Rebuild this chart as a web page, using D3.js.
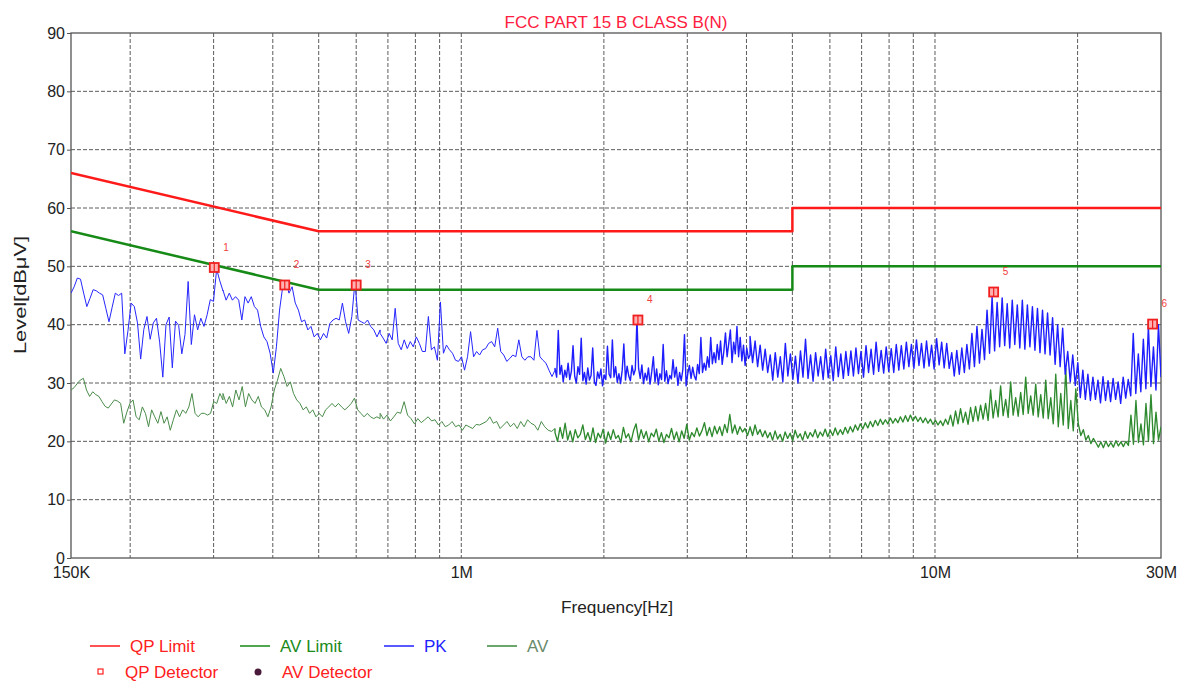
<!DOCTYPE html>
<html>
<head>
<meta charset="utf-8">
<script src="https://cdn.jsdelivr.net/npm/d3@7"></script>
<style>
body { margin: 0; background: #fff; }
</style>
</head>
<body>
<script>
// sweep segments (MHz), each level list is read at equal log steps between two edges
var sweepEdges = [0.15, 0.314, 0.674, 1.577, 4.07, 30];

var pkLevels1 = [45.4,46.5,48,47.8,45.4,43.1,44.5,46,45.8,45.4,45.1,42.8,40.5,43,45.4,45,45.4,35,39,43.7,43.1,40.3,34.1,39.2,41.4,37.5,40.3,41.1,37,31,40,41.3,32.6,40.6,39.9,35,38.3,47.4,36.6,41.7,39.1,41.1,39.7,41.7,44.3,44,49.5,47.5,45.8];
var pkLevels2 = [45.9,44.2,45.4,44.2,44.8,44.2,40.8,44.8,43.7,44.8,43.1,42.5,39.7,37.9,37.1,35.1,31.7,36.2,42.5,46.5,47.4,45.4,46.5,43.7,42.5,40.5,40.8,39.1,39.7,37.9,38.5,37.4,38.5,37.7,40.2,40.8,41.1,40.8,43.7,40.5,38.5,41.4,47.4,40.8,40.5,40.2,40.8,39.7,39.1,37.9,39.1];
var pkLevels3 = [38.5,37.7,36.8,38.5,37.4,42.8,36.8,35.7,37.4,35.9,37.1,36.2,37.9,36.8,35.4,35.4,41.4,35.7,36.2,33.9,43.9,35.1,36.5,35.7,35.1,33.9,33.7,34.5,32.2,34.5,38.8,34.5,35.4,34.8,35.7,35.9,36.8,37.1,36.2,39.4,35.4,34.8,33.7,34.2,34.8,34.5,37.4,34.5,33.9,34.5,34.5,33.9,39,34.5,33.9,33.4,32.2,31.1,32.2];
var pkLevels4 = [32.5,31,39,31.5,33,30.2,32.2,31,33.4,30.6,
  32,36.4,31.2,30,32.8,31.5,37.7,30.4,31.8,29.8,
  32.6,30.5,31.3,36,30.2,29.6,31.9,30.8,32.4,29.5,
  31.4,30.6,36.3,31.5,30.9,37.4,31,32.8,30.1,31.6,
  29.9,32.2,36.7,30.5,32.9,31.2,30.4,33,31.4,32.3,
  41,32.5,30.8,33.1,29.9,31.7,30.5,32.6,29.8,31.9,
  34.5,30.2,32.4,29.7,31.6,30.6,36.6,30.3,32.1,29.9,
  31.3,30.7,34,31,32.7,29.6,31.8,30.4,32.3,38.3,
  29.5,31.6,33,30.8,32.7,31.2,30.5,33.2,31.6,37.8,
  31.8,33.4,32.2,34.5,32.7,37.8,33.3,35.2,33.5,36.6,
  34,37.2,33.2,35.4,38.6,34.5,36.8,39.1,33.5,37,
  35,39.7,34.5,37.8,33.8,36.5,33,36,34.2,34.8];
var pkLevels5 = [38,33.5,37.2,32.8,36.5,32.2,35.8,31.8,
  34.8,30.5,35.2,31,34.5,30.2,36.8,31.2,35,30.6,34.6,30,35.5,31,37.5,30.8,34.8,30.3,35.2,31.2,34.5,30.6,35.8,30.9,34.7,30.4,36.2,31.1,35,30.8,35.4,31.3,
  35.5,31.2,36,31.6,35.4,31,36.4,31.8,35.8,31.5,37,32,35.6,31.7,36.2,32,35.9,31.8,36.6,32.2,
  36.4,32.4,37,32.8,36.6,32.5,37.4,33,36.8,32.6,37.2,32.9,36.5,32.4,37.6,33.1,37,32.6,36.8,32.5,
  35.2,31.2,35.6,31.5,36,31.8,36.6,32.4,
  38.5,32.8,39.7,33.4,39.2,34,
  42.5,35.1,44.8,35.5,
  43.8,36.2,44.6,36.4,43.6,36,44.2,36.6,43.4,
  36,44.2,35.8,43.4,36.2,43.1,35.6,42.8,
  35.2,42.5,35,42,34.8,
  41.2,33.2,40,32.8,39.4,
  31.5,35.4,30.2,34.8,29.6,33.5,
  27.5,32.2,27.2,31.5,27,
  31,27.2,30.5,26.6,31.1,27,30.4,26.8,30.8,27.2,30.2,26.5,31,27.4,30.6,27.8,
  38.5,28.2,35,28.5,37.5,
  29,39.7,29.4,36.2,28.8,40,31];

var avLevels1 = [28.8,29.2,29.9,30.5,30.8,28.8,27.7,28.5,28,27.7,26.8,26,25.7,26.4,27.1,26.9,26.5,23.1,25,26.5,27.1,24.2,23.7,25.9,24.8,22.5,25.4,24.2,23.1,25.1,23.1,24.2,21.9,23.7,25.4,24.2,25.4,24.8,25.9,28.2,24.8,24.2,24.8,24.8,24.5,24.8,26.8,26.5,28.2,27.1];
var avLevels2 = [28.2,26.5,27.7,25.9,28.8,27.1,29.4,25.9,28.2,27.1,26.5,27.7,25.9,25.4,24.2,25.9,28.8,30.5,32.5,31.1,29.4,30.2,28.2,27.1,26.5,25.4,25.9,24.8,25.4,24.2,24.8,24.2,25.4,25.9,26.5,25.9,26.5,25.9,25.4,25.9,26.5,27.4,25.4,24.8,24.2,24.8,24.2,23.9,24.2,23.9];
var avLevels3 = [24.8,23.8,24.5,23.5,24.2,25,24.8,26.8,24.5,23.9,23,23.9,23.2,23.7,24.2,23.5,23.7,22.8,23.4,22.5,22.8,23.4,22.5,22.8,21.9,22.8,22.5,22.2,22.9,22.8,23.1,23.4,24.2,23.1,23.4,22.2,22.8,23.4,22.5,23.1,22.2,23.4,22.5,23.7,23.1,22.8,21.9,23.4,22.5,21.9,21.7,22.2];
var avLevels4 = [21.5,20,22.4,20.5,23.1,20.2,21.8,19.9,22,20.6,21.2,22.8,20.3,21.5,20,22.3,19.8,21.4,20.6,22.1,19.7,21.6,20.3,22,20.5,21,19.8,22.4,20.6,21.3,19.9,21.8,23,20.2,22,20.5,21.7,19.9,21.4,20.8,22.1,20,21.5,19.8,21.2,20.6,22.2,20.3,21.6,19.9,21.8,20.5,22.9,20.2,21.5,20.8,22.3,20.9,21.8,23.2,21,22.4,20.8,22.6,21.3,22.5,21,22.9,21.5,24.6,21.4,22.8,21.2,22.5,21.6,22.2,21,22.4];
var avLevels5 = [22.5,21,22.8,21.2,22,20.8,21.8,20.6,
  21.5,20.2,21.8,20.4,21.2,20,21.6,20.5,21.4,20.1,21.9,20.6,21.3,20.2,21.7,20.5,21.5,20.8,22,20.6,21.6,20.9,22.1,20.8,21.9,21,22.3,21.1,22,21.2,22.4,21.4,
  22.5,21.6,22.8,21.9,23,22.1,23.2,22.3,23.4,22.5,23.6,22.7,23.8,22.9,23.7,23,24,23.1,23.9,23.2,
  24.2,23.3,24.4,23.4,24.5,23.5,24.3,23.4,24.1,23.2,24,23.1,23.8,22.9,23.6,22.8,23.5,22.7,23.8,22.9,
  24.5,22.6,25.2,23,25.6,23.2,25,22.9,25.8,23.4,26,23.5,26.2,23.8,
  26.5,23.6,28.8,24,27,24.2,29.5,24.4,27.2,24.1,30.2,24.5,27.5,24.3,28.4,24.6,31,24.8,27.8,24.5,29.8,24.2,28,24,30.5,23.9,
  27.5,23,31.5,22.5,28.2,22.8,32.5,22.2,27,21.8,29,
  23,21,22,20.2,21,19.6,20.5,
  19.8,19,19.9,18.9,20,19.1,19.8,19,20.1,19.2,19.9,19.1,20,19.3,
  24.5,19.5,27,19.8,23,19.4,26.5,20,28,19.6,25,20.2,22.5];

var qpLimitFreq = [0.15, 0.5, 5, 5, 30];
var qpLimitLevel = [66, 56, 56, 60, 60];
var avLimitFreq = [0.15, 0.5, 5, 5, 30];
var avLimitLevel = [56, 46, 46, 50, 50];

var markFreq = [0.301, 0.424, 0.600, 2.36, 13.3, 28.8];
var markLevel = [49.8, 46.8, 46.8, 40.8, 45.6, 40.1];
var markNo = ["1", "2", "3", "4", "5", "6"];

var gridFreq = [0.2,0.3,0.4,0.5,0.6,0.7,0.8,0.9,1,2,3,4,5,6,7,8,9,10,20];
var tickFreq = [0.15, 1, 10, 30];
var tickLabel = ["150K", "1M", "10M", "30M"];
var levelTicks = [0,10,20,30,40,50,60,70,80,90];

var width = 1187, height = 682;
var plotL = 71, plotR = 1161, plotT = 33, plotB = 558;
var fontFam = "'Liberation Sans', Arial, sans-serif";

var svg = d3.select("body").append("svg")
    .attr("width", width)
    .attr("height", height)
    .style("font-family", fontFam);

var x = d3.scaleLog().domain([0.15, 30]).range([plotL, plotR]);
var y = d3.scaleLinear().domain([0, 90]).range([plotB, plotT]);

function sweep(f0, f1, levels) {
    return levels.map(function(v, i) {
        return { f: f0 * Math.pow(f1 / f0, i / (levels.length - 1)), v: v };
    });
}

var pkSegs = [pkLevels1, pkLevels2, pkLevels3, pkLevels4, pkLevels5];
var avSegs = [avLevels1, avLevels2, avLevels3, avLevels4, avLevels5];
var pkLow = [], avLow = [], pkHigh = [], avHigh = [];
for (var s = 0; s < 5; s++) {
    var pk = sweep(sweepEdges[s], sweepEdges[s + 1], pkSegs[s]);
    var av = sweep(sweepEdges[s], sweepEdges[s + 1], avSegs[s]);
    if (s < 3) { pkLow = pkLow.concat(pk); avLow = avLow.concat(av); }
    else { pkHigh = pkHigh.concat(pk); avHigh = avHigh.concat(av); }
}
// join the two halves so the line is continuous
pkHigh.unshift(pkLow[pkLow.length - 1]);
avHigh.unshift(avLow[avLow.length - 1]);

svg.append("defs").append("clipPath").attr("id", "plotClip")
    .append("rect")
    .attr("x", plotL).attr("y", plotT)
    .attr("width", plotR - plotL).attr("height", plotB - plotT);

// grid
svg.append("g").selectAll("line")
    .data(gridFreq)
    .enter().append("line")
    .attr("x1", d => x(d)).attr("x2", d => x(d))
    .attr("y1", plotT).attr("y2", plotB)
    .attr("stroke", "#4a4a4a")
    .attr("stroke-width", 0.9)
    .attr("stroke-dasharray", "4,2");

svg.append("g").selectAll("line")
    .data(levelTicks.slice(1, 9))
    .enter().append("line")
    .attr("x1", plotL).attr("x2", plotR)
    .attr("y1", d => y(d)).attr("y2", d => y(d))
    .attr("stroke", "#4a4a4a")
    .attr("stroke-width", 0.9)
    .attr("stroke-dasharray", "4,2");

svg.append("rect")
    .attr("x", plotL).attr("y", plotT)
    .attr("width", plotR - plotL).attr("height", plotB - plotT)
    .attr("fill", "none")
    .attr("stroke", "#555")
    .attr("stroke-width", 1.3);

// axes
var yAxis = svg.append("g")
    .attr("transform", "translate(" + plotL + ",0)")
    .call(d3.axisLeft(y).tickValues(levelTicks).tickSize(4).tickPadding(2));
yAxis.select(".domain").remove();
yAxis.selectAll("line").attr("stroke", "#555");
yAxis.selectAll("text").attr("font-size", "16px").attr("fill", "#222")
    .attr("font-family", fontFam);

var xAxis = svg.append("g")
    .attr("transform", "translate(0," + plotB + ")")
    .call(d3.axisBottom(x).tickValues(tickFreq).tickFormat((d, i) => tickLabel[i]).tickSize(0).tickPadding(9));
xAxis.select(".domain").remove();
xAxis.selectAll("text").attr("font-size", "16px").attr("fill", "#222")
    .attr("font-family", fontFam);

// traces
var line = d3.line().x(d => x(d.f)).y(d => y(d.v));
var plot = svg.append("g").attr("clip-path", "url(#plotClip)")
    .attr("stroke-linejoin", "round");

plot.append("path").datum(avLow).attr("d", line)
    .attr("fill", "none").attr("stroke", "#4a8c4a").attr("stroke-width", 1);
plot.append("path").datum(avHigh).attr("d", line)
    .attr("fill", "none").attr("stroke", "#2e8a2e").attr("stroke-width", 1.35);

plot.append("path").datum(pkLow).attr("d", line)
    .attr("fill", "none").attr("stroke", "#2626ff").attr("stroke-width", 1);
plot.append("path").datum(pkHigh).attr("d", line)
    .attr("fill", "none").attr("stroke", "#1e1eff").attr("stroke-width", 1.4);

var qpLimit = qpLimitFreq.map((f, i) => ({ f: f, v: qpLimitLevel[i] }));
var avLimit = avLimitFreq.map((f, i) => ({ f: f, v: avLimitLevel[i] }));

plot.append("path")
    .datum(avLimit)
    .attr("d", line)
    .attr("fill", "none")
    .attr("stroke", "#168a16")
    .attr("stroke-width", 2.5);

plot.append("path")
    .datum(qpLimit)
    .attr("d", line)
    .attr("fill", "none")
    .attr("stroke", "#ff1a1a")
    .attr("stroke-width", 2.5);

// detector markers
var marks = markFreq.map((f, i) => ({ f: f, v: markLevel[i], n: markNo[i] }));
var mg = svg.append("g").selectAll("g")
    .data(marks)
    .enter().append("g")
    .attr("transform", d => "translate(" + x(d.f) + "," + y(d.v) + ")");
mg.append("rect")
    .attr("x", -4.5).attr("y", -4.5).attr("width", 9).attr("height", 9)
    .attr("fill", "#ffb0b0")
    .attr("stroke", "#f02020")
    .attr("stroke-width", 1.8);
mg.append("line")
    .attr("x1", 0).attr("x2", 0).attr("y1", -4.5).attr("y2", 4.5)
    .attr("stroke", "#f02020").attr("stroke-width", 1.2);
mg.append("text")
    .attr("x", 9).attr("y", -17)
    .attr("font-size", "10px")
    .attr("fill", "#f04040")
    .text(d => d.n);

// titles
svg.append("text")
    .attr("x", 616).attr("y", 28)
    .attr("text-anchor", "middle")
    .attr("font-size", "17px")
    .attr("fill", "#ff2040")
    .text("FCC PART 15 B CLASS B(N)");

svg.append("text")
    .attr("x", 617).attr("y", 613)
    .attr("text-anchor", "middle")
    .attr("font-size", "17px")
    .attr("textLength", 112)
    .attr("lengthAdjust", "spacingAndGlyphs")
    .attr("fill", "#222")
    .text("Frequency[Hz]");

svg.append("text")
    .attr("transform", "translate(26,295)rotate(-90)")
    .attr("text-anchor", "middle")
    .attr("font-size", "17px")
    .attr("textLength", 118)
    .attr("lengthAdjust", "spacingAndGlyphs")
    .attr("fill", "#222")
    .text("Level[dBμV]");

// legend
var legendLines = [
    { x: 90, label: "QP Limit", color: "#ff1a1a", text: "#ff2020" },
    { x: 240, label: "AV Limit", color: "#168a16", text: "#1a8a1a" },
    { x: 384, label: "PK", color: "#2222ff", text: "#2222ff" },
    { x: 487, label: "AV", color: "#3a8a3a", text: "#6a8a6a" }
];
var lg = svg.append("g").selectAll("g")
    .data(legendLines)
    .enter().append("g")
    .attr("transform", d => "translate(" + d.x + ",646)");
lg.append("line")
    .attr("x1", 0).attr("x2", 30)
    .attr("stroke", d => d.color)
    .attr("stroke-width", 1.5);
lg.append("text")
    .attr("x", 40).attr("y", 6)
    .attr("font-size", "17px")
    .attr("fill", d => d.text)
    .text(d => d.label);

svg.append("rect")
    .attr("x", 98).attr("y", 669).attr("width", 5).attr("height", 5)
    .attr("fill", "none").attr("stroke", "#ff2020").attr("stroke-width", 1.2);
svg.append("text")
    .attr("x", 125).attr("y", 678)
    .attr("font-size", "17px").attr("fill", "#ff2020")
    .text("QP Detector");
svg.append("circle")
    .attr("cx", 258).attr("cy", 672).attr("r", 3.5)
    .attr("fill", "#4a1a3a");
svg.append("text")
    .attr("x", 282).attr("y", 678)
    .attr("font-size", "17px").attr("fill", "#ff2020")
    .text("AV Detector");
</script>
</body>
</html>
